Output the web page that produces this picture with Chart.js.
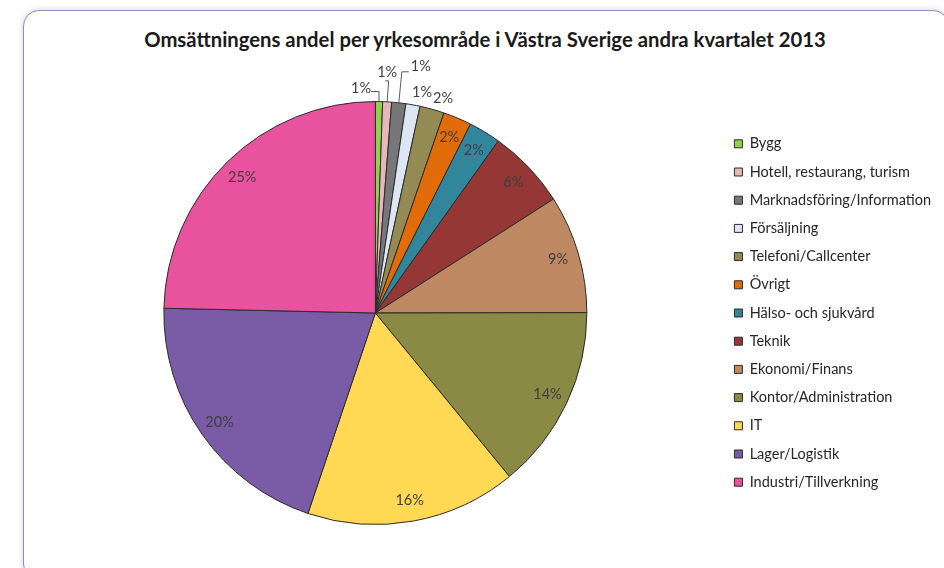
<!DOCTYPE html>
<html>
<head>
<meta charset="utf-8">
<script src="https://cdn.jsdelivr.net/npm/chart.js@4.4.1/dist/chart.umd.min.js"></script>
<style>
    html, body { margin: 0; padding: 0; background: #ffffff; overflow: hidden; }
    #wrap { position: relative; width: 944px; height: 568px; }
    #frame {
        position: absolute; left: 23px; top: 10px; width: 924px; height: 568px;
        border: 1.5px solid #9d86c3; border-radius: 16px; background: #ffffff;
        box-shadow: 0 0 6px rgba(0, 0, 0, 0.18);
    }
    #title {
        position: absolute; left: 0; top: 28px; width: 970px; text-align: center;
        font: bold 20.3px Lato, sans-serif; color: #1a1a1a; line-height: 22px;
    }
    #chart { position: absolute; left: 0; top: 0; }
</style>
</head>
<body>
<div id="wrap">
    <div id="frame"></div>
    <div id="title">Omsättningens andel per yrkesområde i Västra Sverige andra kvartalet 2013</div>
    <canvas id="chart" width="944" height="568"></canvas>
</div>
<script>
const categories = [
    'Bygg', 'Hotell, restaurang, turism', 'Marknadsföring/Information', 'Försäljning',
    'Telefoni/Callcenter', 'Övrigt', 'Hälso- och sjukvård', 'Teknik', 'Ekonomi/Finans',
    'Kontor/Administration', 'IT', 'Lager/Logistik', 'Industri/Tillverkning'
];
const shares = [0.55, 0.68, 1.08, 1.08, 1.87, 2.17, 2.45, 6.07, 9.03, 14.1, 16.1, 20.2, 24.65];
const sliceColors = [
    '#92d050', '#e6b9b8', '#77777a', '#dde6f2', '#948b54', '#e36c0a', '#31869b',
    '#953735', '#be8962', '#8a8a45', '#ffd953', '#7a5ba6', '#e8529f'
];

// small slices get their label outside, offsets from the slice edge
const outsideLabels = {
    0: { dx: -18, dy: -13.5, leader: [[0, -10], [-8, -10]] },
    1: { dx: 0, dy: -30, leader: [[1.5, -21], [-2, -21]] },
    2: { dx: 22, dy: -36, leader: [[3, -31], [10, -31]] },
    3: { dx: 9, dy: -13 },
    4: { dx: 11, dy: -11 }
};

const pieLabels = {
    id: 'pieLabels',
    afterDatasetsDraw(chart) {
        const ctx = chart.ctx;
        const meta = chart.getDatasetMeta(0);
        ctx.save();
        ctx.font = '14.5px Lato';
        ctx.fillStyle = '#404040';
        ctx.strokeStyle = '#595959';
        ctx.lineWidth = 1;
        ctx.textAlign = 'center';
        ctx.textBaseline = 'middle';
        meta.data.forEach((arc, i) => {
            const p = arc.getProps(['x', 'y', 'startAngle', 'endAngle', 'outerRadius'], true);
            const mid = (p.startAngle + p.endAngle) / 2;
            const text = Math.round(shares[i]) + '%';
            const o = outsideLabels[i];
            if (o) {
                const ex = p.x + Math.cos(mid) * p.outerRadius;
                const ey = p.y + Math.sin(mid) * p.outerRadius;
                if (o.leader) {
                    ctx.beginPath();
                    ctx.moveTo(ex, ey);
                    o.leader.forEach(pt => ctx.lineTo(ex + pt[0], ey + pt[1]));
                    ctx.stroke();
                }
                ctx.fillText(text, ex + o.dx, ey + o.dy);
            } else {
                const r = p.outerRadius * 0.9;
                ctx.fillText(text, p.x + Math.cos(mid) * r, p.y + Math.sin(mid) * r);
            }
        });
        ctx.restore();
    }
};

new Chart(document.getElementById('chart'), {
    type: 'pie',
    data: {
        labels: categories,
        datasets: [{
            data: shares,
            backgroundColor: sliceColors,
            borderColor: '#2b2b2b',
            borderWidth: 1
        }]
    },
    options: {
        responsive: false,
        animation: false,
        events: [],
        layout: { padding: { top: 101, bottom: 43, left: 30, right: 3 } },
        plugins: {
            legend: {
                position: 'right',
                labels: {
                    boxWidth: 8,
                    boxHeight: 8,
                    padding: 13.7,
                    color: '#262626',
                    font: { family: 'Lato', size: 14.5 }
                }
            },
            tooltip: { enabled: false }
        }
    },
    plugins: [pieLabels]
});
</script>
</body>
</html>
